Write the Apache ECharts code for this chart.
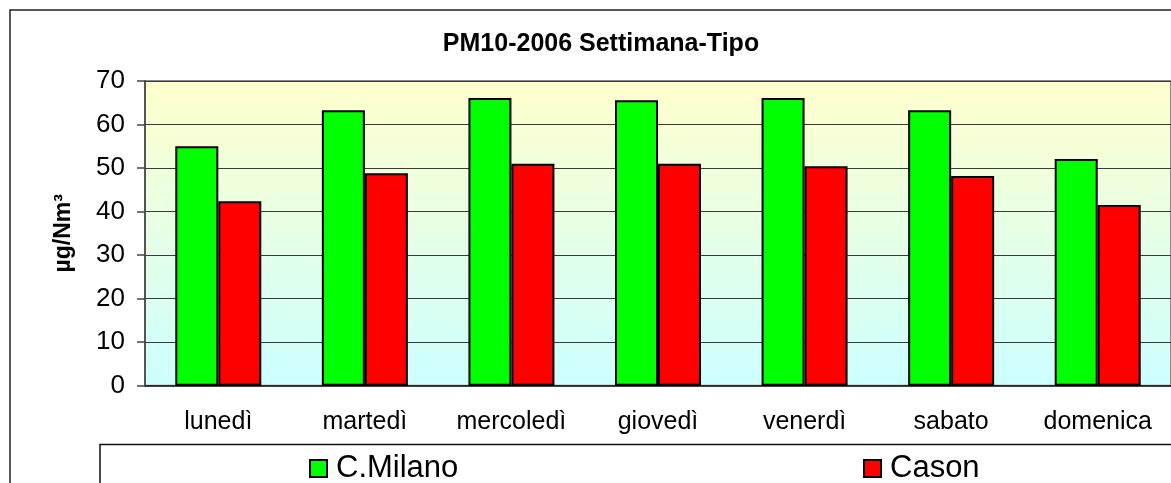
<!DOCTYPE html>
<html>
<head>
<meta charset="utf-8">
<script src="https://cdn.jsdelivr.net/npm/echarts@6/dist/echarts.min.js"></script>
<style>
html,body{margin:0;padding:0;background:#fff;overflow:hidden;}
#chart{width:1171px;height:483px;}
</style>
</head>
<body>
<div id="chart"></div>
<script>
/*dati settimana-tipo PM10 2006*/
var giorni = ["lunedì","martedì","mercoledì","giovedì","venerdì","sabato","domenica"];
var milano = [55,63.3,66.1,65.6,66.1,63.3,52.1];   //C.Milano
var cason = [42.4,48.8,51,51,50.4,48.2,41.5];      //Cason
var yTicks = {min:0,max:70,interval:10};

var font = 'Arial, "Liberation Sans", sans-serif';
var myChart = echarts.init(document.getElementById('chart'));

myChart.setOption({
    animation:false,
    title:{
        text:'PM10-2006 Settimana-Tipo',
        left:596, top:27, textAlign:'center',
        textStyle:{fontFamily:font,fontSize:25,fontWeight:'bold',color:'#000'}
    },
    /*cornice esterna e riquadro legenda*/
    graphic:[
        {type:'rect',shape:{x:10,y:10,width:1300,height:700},style:{fill:'none',stroke:'#222',lineWidth:1.5},z:-1},
        {type:'rect',shape:{x:100,y:444.5,width:1300,height:100},style:{fill:'#fff',stroke:'#111',lineWidth:1.5},z:-1}
    ],
    legend:[
        {data:['C.Milano'],left:304,top:448,icon:'rect',itemWidth:17,itemHeight:17,
         textStyle:{fontFamily:font,fontSize:31,color:'#000',padding:[0,0,0,4]}},
        {data:['Cason'],left:858,top:448,icon:'rect',itemWidth:17,itemHeight:17,
         textStyle:{fontFamily:font,fontSize:31,color:'#000',padding:[0,0,0,4]}}
    ],
    grid:{
        left:145, top:81, width:1039.5, height:304.7,
        show:true,
        borderColor:'#888', borderWidth:2,
        backgroundColor:new echarts.graphic.LinearGradient(0,0,0,1,[
            {offset:0,color:'#FFFFCC'},
            {offset:1,color:'#CCFFFF'}
        ])
    },
    xAxis:{
        type:'category',
        data:giorni,
        axisLine:{lineStyle:{color:'#222',width:1.5}},
        axisTick:{length:7,lineStyle:{color:'#666',width:1.5}},
        axisLabel:{fontFamily:font,fontSize:25,color:'#000',margin:24,interval:0}
    },
    yAxis:{
        type:'value',
        min:yTicks.min, max:yTicks.max, interval:yTicks.interval,
        name:'µg/Nm³',
        nameLocation:'middle',
        nameGap:70,
        nameTextStyle:{fontFamily:font,fontSize:23,fontWeight:'bold',color:'#000'},
        axisLine:{show:true,lineStyle:{color:'#444',width:1.5}},
        axisTick:{show:true,length:8,lineStyle:{color:'#444',width:1.5}},
        axisLabel:{fontFamily:font,fontSize:26,color:'#000',margin:20},
        splitLine:{lineStyle:{color:'#3a3a3a',width:1.2}}
    },
    series:[
        {
            name:'C.Milano', type:'bar', data:milano,
            barWidth:43, barGap:'0%',
            itemStyle:{color:'#00FF00',borderColor:'#000',borderWidth:2}
        },
        {
            name:'Cason', type:'bar', data:cason,
            barWidth:43,
            itemStyle:{color:'#FF0000',borderColor:'#000',borderWidth:2}
        }
    ]
});
</script>
</body>
</html>
